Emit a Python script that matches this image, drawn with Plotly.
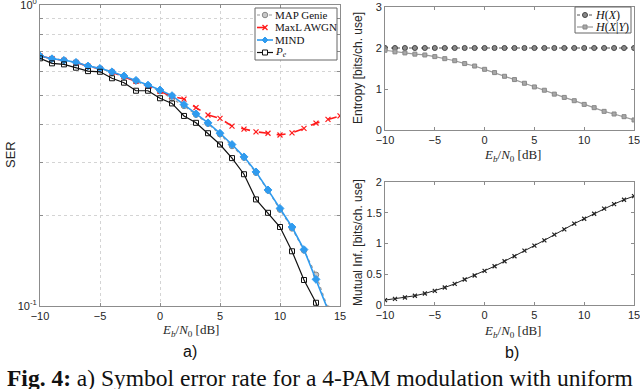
import plotly.graph_objects as go

# ── data ──────────────────────────────────────────────────────────────────────
ebn0 = list(range(-10, 16))

ser_map_genie = [0.677, 0.663, 0.655, 0.644, 0.626, 0.614, 0.598, 0.578, 0.558, 0.538,
                 0.517, 0.490, 0.462, 0.432, 0.403, 0.372, 0.340, 0.311, 0.277, 0.242,
                 0.209, 0.181, 0.153, 0.127, 0.098, 0.075]
ser_maxl_awgn = [0.677, 0.663, 0.655, 0.644, 0.626, 0.614, 0.598, 0.578, 0.558, 0.538,
                 0.517, 0.497, 0.487, 0.456, 0.431, 0.420, 0.396, 0.387, 0.379, 0.375,
                 0.370, 0.376, 0.389, 0.405, 0.417, 0.428]
ser_mind = [0.677, 0.663, 0.655, 0.645, 0.627, 0.616, 0.600, 0.581, 0.562, 0.542,
            0.522, 0.500, 0.467, 0.435, 0.406, 0.375, 0.344, 0.313, 0.279, 0.243,
            0.211, 0.183, 0.154, 0.1226, 0.097, 0.073]
ser_pe = [0.665, 0.640, 0.635, 0.619, 0.603, 0.600, 0.571, 0.552, 0.519, 0.519,
          0.490, 0.471, 0.428, 0.406, 0.375, 0.344, 0.310, 0.274, 0.226, 0.204,
          0.183, 0.152, 0.122, 0.1025, 0.080, 0.062]

h_x = [2.0] * len(ebn0)
h_x_given_y = [1.945, 1.906, 1.880, 1.850, 1.830, 1.790, 1.740, 1.690, 1.620, 1.560,
               1.480, 1.400, 1.310, 1.230, 1.140, 1.050, 0.970, 0.875, 0.795, 0.715,
               0.625, 0.545, 0.455, 0.390, 0.325, 0.245]
mutual_inf = [0.080, 0.100, 0.122, 0.150, 0.187, 0.230, 0.284, 0.344, 0.414, 0.480,
              0.556, 0.630, 0.712, 0.793, 0.884, 0.966, 1.052, 1.144, 1.230, 1.322,
              1.403, 1.484, 1.566, 1.641, 1.712, 1.770]

ser_ticks = [0.1, 0.2, 0.3, 0.4, 0.5, 0.6, 0.7, 0.8, 0.9, 1.0]
ser_ticktext = ["10<sup>-1</sup>", "", "", "", "", "", "", "", "", "10<sup>0</sup>"]

legend_a = ["MAP Genie", "MaxL AWGN", "MIND", "<i>P</i><sub><i>e</i></sub>"]
legend_b = ["<i>H</i>(<i>X</i>)", "<i>H</i>(<i>X</i>|<i>Y</i>)"]

# ── layout helpers (pixel -> paper, margins are zero) ─────────────────────────
W, H = 640, 389


def px(x):
    return x / W


def py(y):
    return 1 - y / H


SANS = "Liberation Sans, Arial, sans-serif"
SERIF = "Liberation Serif, Times New Roman, serif"
AXIS_COL = "#8c8c8c"
EBN0_TITLE = "<i>E</i><sub><i>b</i></sub>/<i>N</i><sub>0</sub> [dB]"

# trace styles: (line colour, line width, dash, marker symbol, marker size, fill, edge)
STYLE_GENIE = ("#9a9a9a", 1.2, "dot", "circle", 5.5, "#c8c8c8", "#8a8a8a")
STYLE_MAXL = ("#ff1a1a", 1.6, "dash", "x", 5, "#ff1a1a", "#ff1a1a")
STYLE_MIND = ("#2f9bef", 1.6, "solid", "diamond", 6, "#2f9bef", "#2f9bef")
STYLE_PE = ("#111111", 1.2, "solid", "square", 5, "white", "#111111")
STYLE_HX = ("#555555", 1.0, "dot", "circle", 5, "#8a8a8a", "#444444")
STYLE_HXY = ("#9a9a9a", 1.2, "solid", "square", 4, "#a8a8a8", "#888888")


def plotly_symbol(style):
    sym = style[3]
    if sym == "x":
        return "x-thin"
    if style[5] == "white":
        return sym + "-open"
    return sym


def add_series(fig, x, y, style, xa, ya):
    col, lw, dash, sym, ms, fill, edge = style
    marker = dict(symbol=plotly_symbol(style), size=ms, color=fill if fill != "white" else edge,
                  line=dict(color=edge, width=1.2 if sym == "x" else 1))
    fig.add_trace(go.Scatter(
        x=x, y=y, mode="lines+markers", showlegend=False,
        line=dict(color=col, width=lw, dash=dash), marker=marker,
        xaxis=xa, yaxis=ya, hoverinfo="x+y",
    ))


def marker_shape(cx, cy, style):
    """Small legend glyph drawn as a paper-referenced shape (cx, cy in pixels)."""
    col, lw, dash, sym, ms, fill, edge = style
    r = ms / 2.0
    base = dict(xref="paper", yref="paper", line=dict(color=edge, width=1))
    if sym == "circle":
        return dict(base, type="circle", x0=px(cx - r), x1=px(cx + r),
                    y0=py(cy + r), y1=py(cy - r), fillcolor=fill)
    if sym == "square":
        return dict(base, type="rect", x0=px(cx - r), x1=px(cx + r),
                    y0=py(cy + r), y1=py(cy - r), fillcolor=fill)
    if sym == "diamond":
        path = (f"M{px(cx - r)},{py(cy)} L{px(cx)},{py(cy - r)} "
                f"L{px(cx + r)},{py(cy)} L{px(cx)},{py(cy + r)} Z")
        return dict(base, type="path", path=path, fillcolor=fill)
    path = (f"M{px(cx - r)},{py(cy - r)} L{px(cx + r)},{py(cy + r)} "
            f"M{px(cx - r)},{py(cy + r)} L{px(cx + r)},{py(cy - r)}")
    return dict(base, type="path", path=path, line=dict(color=edge, width=1.3))


def legend_box(x0, y0, x1, y1, rows, labels, styles, size):
    shapes = [dict(type="rect", xref="paper", yref="paper", x0=px(x0), x1=px(x1),
                   y0=py(y1), y1=py(y0), fillcolor="white",
                   line=dict(color="#666666", width=1))]
    notes = []
    for yc, lab, st in zip(rows, labels, styles):
        shapes.append(dict(type="line", xref="paper", yref="paper",
                           x0=px(x0 + 2), x1=px(x0 + 18), y0=py(yc), y1=py(yc),
                           line=dict(color=st[0], width=st[1], dash=st[2])))
        shapes.append(marker_shape(x0 + 10, yc, st))
        notes.append(dict(text=lab, x=px(x0 + 18), y=py(yc), xanchor="left",
                          font=dict(family=SERIF, size=size, color="#111111")))
    return shapes, notes


fig = go.Figure()

# ── a) SER panel ──────────────────────────────────────────────────────────────
add_series(fig, ebn0, ser_map_genie, STYLE_GENIE, "x", "y")
add_series(fig, ebn0, ser_maxl_awgn, STYLE_MAXL, "x", "y")
add_series(fig, ebn0, ser_mind, STYLE_MIND, "x", "y")
add_series(fig, ebn0, ser_pe, STYLE_PE, "x", "y")

# ── b) entropy panel ──────────────────────────────────────────────────────────
add_series(fig, ebn0, h_x, STYLE_HX, "x2", "y2")
add_series(fig, ebn0, h_x_given_y, STYLE_HXY, "x2", "y2")

# ── b) mutual information panel ───────────────────────────────────────────────
fig.add_trace(go.Scatter(
    x=ebn0, y=mutual_inf, mode="lines+markers", showlegend=False,
    line=dict(color="#222222", width=1),
    marker=dict(symbol="x-thin", size=4, color="#222222", line=dict(color="#222222", width=1.2)),
    xaxis="x3", yaxis="y3",
))

shapes_a, notes_a = legend_box(255, 8, 337, 60, [15, 27.5, 40, 52.5], legend_a,
                               [STYLE_GENIE, STYLE_MAXL, STYLE_MIND, STYLE_PE], 11)
shapes_b, notes_b = legend_box(575, 7, 631, 33, [15, 27], legend_b,
                               [STYLE_HX, STYLE_HXY], 12)

tick_font = dict(family=SANS, size=11, color="#262626")
common = dict(
    showline=True, linecolor=AXIS_COL, linewidth=1, mirror="ticks",
    ticks="inside", ticklen=3, tickcolor=AXIS_COL, tickfont=tick_font,
    zeroline=False, automargin=False, ticklabeloverflow="allow",
)
xcommon = dict(common, range=[-10, 15], tickvals=[-10, -5, 0, 5, 10, 15])

annotations = [
    dict(text="SER", x=px(10), y=py(155), textangle=-90,
         font=dict(family=SANS, size=13, color="#262626")),
    dict(text="Entropy [bits/ch. use]", x=px(358), y=py(68), textangle=-90,
         font=dict(family=SANS, size=12, color="#262626")),
    dict(text="Mutual Inf. [bits/ch. use]", x=px(358), y=py(243), textangle=-90,
         font=dict(family=SANS, size=12, color="#262626")),
    dict(text=EBN0_TITLE, x=px(190), y=py(330),
         font=dict(family=SERIF, size=13, color="#262626")),
    dict(text=EBN0_TITLE, x=px(512), y=py(155),
         font=dict(family=SERIF, size=13, color="#262626")),
    dict(text=EBN0_TITLE, x=px(512), y=py(331),
         font=dict(family=SERIF, size=13, color="#262626")),
    dict(text="a)", x=px(190), y=py(351),
         font=dict(family=SANS, size=16, color="#111111")),
    dict(text="b)", x=px(512), y=py(352),
         font=dict(family=SANS, size=16, color="#111111")),
    dict(text="<b>Fig. 4:</b> a) Symbol error rate for a 4-PAM modulation with uniform",
         x=px(5), y=py(378), xanchor="left",
         font=dict(family=SERIF, size=23.5, color="#111111")),
] + notes_a + notes_b
for a in annotations:
    a.setdefault("xanchor", "center")
    a.update(xref="paper", yref="paper", showarrow=False, yanchor="middle")

fig.update_layout(
    width=W, height=H,
    margin=dict(l=0, r=0, t=0, b=0, autoexpand=False),
    paper_bgcolor="white", plot_bgcolor="white",
    showlegend=False,
    xaxis=dict(xcommon, domain=[px(40), px(340)], anchor="y",
               showgrid=True, gridcolor="#d4d4d4", griddash="dot", gridwidth=1),
    yaxis=dict(common, type="log", range=[-1, 0], domain=[py(306), py(5)], anchor="x",
               tickvals=ser_ticks, ticktext=ser_ticktext,
               showgrid=True, gridcolor="#d4d4d4", griddash="dot", gridwidth=1),
    xaxis2=dict(xcommon, domain=[px(385), px(634)], anchor="y2", showgrid=False),
    yaxis2=dict(common, range=[0, 3], tickvals=[0, 1, 2, 3], domain=[py(130), py(7)],
                anchor="x2", showgrid=False),
    xaxis3=dict(xcommon, domain=[px(385), px(634)], anchor="y3", showgrid=False),
    yaxis3=dict(common, range=[0, 2], tickvals=[0, 0.5, 1, 1.5, 2],
                ticktext=["0", "0.5", "1", "1.5", "2"], domain=[py(305), py(182)],
                anchor="x3", showgrid=False),
    shapes=shapes_a + shapes_b,
    annotations=annotations,
)

# drop the default 8px page margin so the 640x389 figure fills the window
fig.write_html("out.html", config={"displayModeBar": False},
               post_script="document.body.style.margin = '0';")
